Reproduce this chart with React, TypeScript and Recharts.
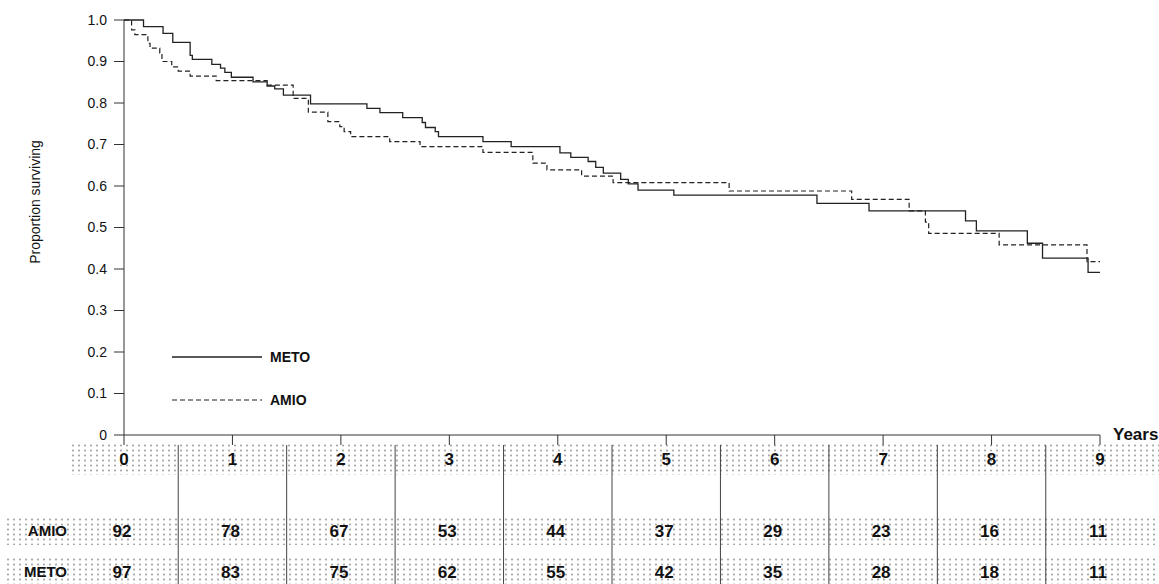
import {
  LineChart,
  Line,
  XAxis,
  YAxis,
  Legend,
  ScatterChart,
  Scatter,
  ReferenceLine,
} from "recharts";

// survival steps: [years, proportion surviving]
const METO_TIMES = [
  0, 0.18, 0.36, 0.45, 0.61, 0.63, 0.81, 0.89, 0.93, 0.99, 1.19, 1.32, 1.39,
  1.47, 1.72, 2.24, 2.36, 2.57, 2.75, 2.78, 2.87, 2.9, 3.31, 3.57, 4.02, 4.12,
  4.28, 4.35, 4.42, 4.58, 4.65, 4.74, 5.07, 6.39, 6.87, 7.76, 7.86, 8.33, 8.47,
  8.89, 9.0,
];
const METO_SURV = [
  1.0, 0.984, 0.968, 0.946, 0.915, 0.905, 0.893, 0.884, 0.874, 0.862, 0.851,
  0.841, 0.834, 0.819, 0.798, 0.787, 0.777, 0.765, 0.753, 0.741, 0.731, 0.719,
  0.707, 0.695, 0.68, 0.669, 0.659, 0.645, 0.631, 0.616, 0.605, 0.59, 0.578,
  0.558, 0.54, 0.516, 0.492, 0.462, 0.426, 0.392, 0.392,
];

const AMIO_TIMES = [
  0, 0.07, 0.1, 0.22, 0.24, 0.33, 0.35, 0.44, 0.5, 0.61, 0.85, 1.32, 1.56, 1.7,
  1.88, 1.99, 2.03, 2.09, 2.45, 2.73, 3.31, 3.77, 3.9, 4.22, 4.51, 5.58, 6.71,
  7.24, 7.39, 7.42, 8.07, 8.88, 9.0,
];
const AMIO_SURV = [
  1.0, 0.976, 0.965, 0.944, 0.932, 0.92, 0.9, 0.887, 0.877, 0.865, 0.854, 0.843,
  0.811, 0.778, 0.755, 0.743, 0.731, 0.719, 0.707, 0.695, 0.681, 0.655, 0.639,
  0.624, 0.608, 0.588, 0.568, 0.54, 0.513, 0.486, 0.458, 0.418, 0.418,
];

const YEARS = [0, 1, 2, 3, 4, 5, 6, 7, 8, 9];
const Y_TICKS = [0, 0.1, 0.2, 0.3, 0.4, 0.5, 0.6, 0.7, 0.8, 0.9, 1.0];

// numbers at risk
const AMIO_AT_RISK = [92, 78, 67, 53, 44, 37, 29, 23, 16, 11];
const METO_AT_RISK = [97, 83, 75, 62, 55, 42, 35, 28, 18, 11];

const FONT = "'Liberation Sans', Arial, Helvetica, sans-serif";
const INK = "#222";

const metoData = METO_TIMES.map((t, i) => ({ t, s: METO_SURV[i] }));
const amioData = AMIO_TIMES.map((t, i) => ({ t, s: AMIO_SURV[i] }));

const AMIO_ROW = 0.619;
const METO_ROW = 0.914;
const amioRisk = YEARS.map((t, i) => ({ t, row: AMIO_ROW, n: AMIO_AT_RISK[i] }));
const metoRisk = YEARS.map((t, i) => ({ t, row: METO_ROW, n: METO_AT_RISK[i] }));
const separators = YEARS.slice(0, -1).map((t) => t + 0.5);

const dots = {
  position: "absolute" as const,
  backgroundImage:
    "radial-gradient(circle at center, #a8a8a8 0, #a8a8a8 0.8px, transparent 1.3px)",
  backgroundSize: "6px 5px",
};

const LegendBox = () => (
  <svg width={150} height={70}>
    <line x1={0} y1={10} x2={90} y2={10} stroke={INK} strokeWidth={1.3} />
    <text x={98} y={15} fontSize={14} fontWeight="bold" fill="#111">
      METO
    </text>
    <line
      x1={0}
      y1={53}
      x2={90}
      y2={53}
      stroke={INK}
      strokeWidth={1.2}
      strokeDasharray="5 3"
    />
    <text x={98} y={58} fontSize={14} fontWeight="bold" fill="#111">
      AMIO
    </text>
  </svg>
);

const RiskNumber = (props: any) => (
  <text
    x={props.cx - 2}
    y={props.cy}
    textAnchor="middle"
    dominantBaseline="central"
    fontSize={17}
    fontWeight="bold"
    fill="#111"
  >
    {props.payload.n}
  </text>
);

export default function App() {
  return (
    <div
      style={{
        position: "absolute",
        left: 0,
        top: 0,
        width: 1159,
        height: 584,
        background: "#fff",
        fontFamily: FONT,
        overflow: "hidden",
      }}
    >
      {/* halftone bands from the scanned table */}
      <div style={{ ...dots, left: 70, top: 443, width: 1089, height: 32 }} />
      <div style={{ ...dots, left: 5, top: 517, width: 1154, height: 28 }} />
      <div style={{ ...dots, left: 5, top: 557, width: 1154, height: 27 }} />

      <div style={{ position: "absolute", left: 0, top: 0 }}>
        <LineChart
          width={1159}
          height={480}
          margin={{ top: 20, right: 59, left: 0, bottom: 15 }}
        >
          <XAxis
            type="number"
            dataKey="t"
            domain={[0, 9]}
            ticks={YEARS}
            allowDuplicatedCategory={false}
            height={30}
            tickSize={10}
            tickMargin={8}
            stroke="#333"
            tick={{ fill: "#111", fontSize: 17, fontWeight: "bold" }}
            label={{
              content: (p: any) => (
                <text
                  x={p.viewBox.x + p.viewBox.width + 13}
                  y={p.viewBox.y + 5}
                  fontSize={17}
                  fontWeight="bold"
                  fill="#111"
                >
                  Years
                </text>
              ),
            }}
          />
          <YAxis
            type="number"
            domain={[0, 1]}
            ticks={Y_TICKS}
            width={124}
            tickSize={10}
            tickMargin={7}
            stroke="#333"
            tick={{ fill: "#111", fontSize: 14 }}
            tickFormatter={(v: number) => (v === 0 ? "0" : v.toFixed(1))}
            label={{
              content: () => (
                <text
                  x={35}
                  y={202}
                  transform="rotate(-90 35 202)"
                  textAnchor="middle"
                  dominantBaseline="central"
                  fontSize={14}
                  fill="#111"
                >
                  Proportion surviving
                </text>
              ),
            }}
          />
          <Legend
            layout="vertical"
            align="center"
            verticalAlign="middle"
            wrapperStyle={{ left: 172, top: 347, width: 150, height: 70 }}
            content={() => <LegendBox />}
          />
          <Line
            name="METO"
            data={metoData}
            dataKey="s"
            type="stepAfter"
            stroke={INK}
            strokeWidth={1.3}
            dot={false}
            isAnimationActive={false}
          />
          <Line
            name="AMIO"
            data={amioData}
            dataKey="s"
            type="stepAfter"
            stroke={INK}
            strokeWidth={1.2}
            strokeDasharray="5 3"
            dot={false}
            isAnimationActive={false}
          />
        </LineChart>
      </div>

      <div style={{ position: "absolute", left: 0, top: 445 }}>
        <ScatterChart
          width={1159}
          height={139}
          margin={{ top: 0, right: 59, left: 0, bottom: 0 }}
        >
          <XAxis type="number" dataKey="t" domain={[0, 9]} hide />
          <YAxis
            type="number"
            dataKey="row"
            domain={[0, 1]}
            reversed
            ticks={[AMIO_ROW, METO_ROW]}
            width={124}
            axisLine={false}
            tickLine={false}
            tickSize={0}
            tickMargin={57}
            tick={{ fill: "#111", fontSize: 15, fontWeight: "bold" }}
            tickFormatter={(v: number) => (v === AMIO_ROW ? "AMIO" : "METO")}
          />
          {separators.map((x) => (
            <ReferenceLine key={x} x={x} stroke="#444" strokeWidth={1} />
          ))}
          <Scatter
            data={amioRisk}
            shape={RiskNumber}
            isAnimationActive={false}
          />
          <Scatter
            data={metoRisk}
            shape={RiskNumber}
            isAnimationActive={false}
          />
        </ScatterChart>
      </div>
    </div>
  );
}
